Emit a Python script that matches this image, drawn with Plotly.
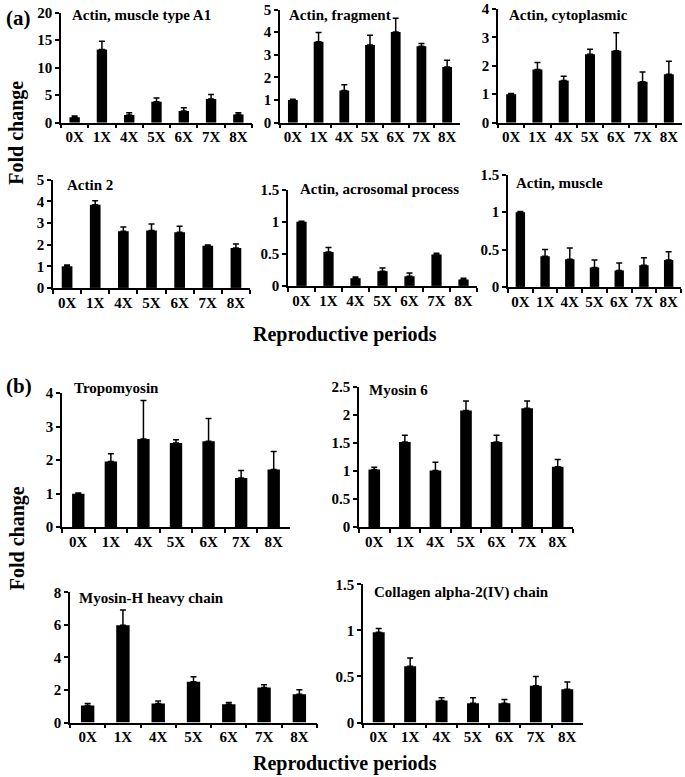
import plotly.graph_objects as go

W, H = 685, 777
periods = ["0X", "1X", "4X", "5X", "6X", "7X", "8X"]

# Panel (a)
actin_a1_mean = [1.0, 13.3, 1.4, 3.8, 2.1, 4.3, 1.5]
actin_a1_err = [0.2, 1.5, 0.4, 0.7, 0.6, 0.8, 0.3]
actin_frag_mean = [1.0, 3.58, 1.42, 3.43, 4.01, 3.38, 2.46]
actin_frag_err = [0.03, 0.4, 0.25, 0.43, 0.6, 0.12, 0.3]
actin_cyto_mean = [1.0, 1.87, 1.48, 2.41, 2.53, 1.44, 1.70]
actin_cyto_err = [0.03, 0.25, 0.15, 0.17, 0.63, 0.34, 0.46]
actin2_mean = [1.0, 3.85, 2.62, 2.65, 2.57, 1.95, 1.85]
actin2_err = [0.06, 0.18, 0.2, 0.3, 0.28, 0.03, 0.18]
actin_acro_mean = [1.0, 0.53, 0.12, 0.23, 0.15, 0.49, 0.10]
actin_acro_err = [0.01, 0.07, 0.02, 0.05, 0.05, 0.02, 0.02]
actin_musc_mean = [1.0, 0.41, 0.37, 0.26, 0.22, 0.29, 0.36]
actin_musc_err = [0.01, 0.09, 0.15, 0.1, 0.1, 0.1, 0.11]
# Panel (b)
tropo_mean = [1.0, 1.96, 2.63, 2.51, 2.56, 1.47, 1.72]
tropo_err = [0.02, 0.23, 1.15, 0.1, 0.68, 0.22, 0.54]
myo6_mean = [1.03, 1.52, 1.01, 2.08, 1.52, 2.12, 1.08]
myo6_err = [0.04, 0.12, 0.15, 0.17, 0.12, 0.13, 0.13]
myoh_mean = [1.05, 5.97, 1.17, 2.5, 1.13, 2.15, 1.74]
myoh_err = [0.12, 0.94, 0.16, 0.31, 0.1, 0.17, 0.27]
coll_mean = [0.98, 0.61, 0.24, 0.21, 0.21, 0.40, 0.36]
coll_err = [0.04, 0.09, 0.03, 0.06, 0.04, 0.10, 0.08]

titles = ["Actin, muscle type A1", "Actin, fragment", "Actin, cytoplasmic",
          "Actin 2", "Actin, acrosomal process", "Actin, muscle",
          "Tropomyosin", "Myosin 6", "Myosin-H heavy chain",
          "Collagen alpha-2(IV) chain"]
means = [actin_a1_mean, actin_frag_mean, actin_cyto_mean, actin2_mean,
         actin_acro_mean, actin_musc_mean, tropo_mean, myo6_mean, myoh_mean, coll_mean]
errs = [actin_a1_err, actin_frag_err, actin_cyto_err, actin2_err,
        actin_acro_err, actin_musc_err, tropo_err, myo6_err, myoh_err, coll_err]
ymax = [20, 5, 4, 5, 1.5, 1.5, 4, 2.5, 8, 1.5]
dticks = [5, 1, 1, 1, 0.5, 0.5, 1, 0.5, 2, 0.5]

# pixel boxes (as seen in the picture): x0, x1, ytop, ybottom
boxes = [(61, 252, 13, 123), (280, 460, 10, 123), (498, 682, 8, 123),
         (53, 250, 180, 288), (288, 477, 190, 286), (508, 681, 175, 287),
         (62, 290, 393, 527), (359, 573, 387, 527), (70, 317, 592, 722),
         (363, 583, 584, 722)]


def py2paper(py, lo=0.0):
    # the photographed page maps layout y to picture y as 8.5 + 0.978*y
    y = max((py - 8.5) / 0.978, lo)
    return min(1.0, max(0.0, 1 - y / H))


FONT = "Liberation Serif"
fig = go.Figure()
annotations = []
for i in range(10):
    n = "" if i == 0 else str(i + 1)
    x0, x1, yt, yb = boxes[i]
    fig.add_trace(go.Bar(
        x=periods, y=means[i], width=0.38, marker=dict(color="black", line=dict(width=0)),
        error_y=dict(type="data", symmetric=False, array=errs[i],
                     arrayminus=[0] * 7, color="black", thickness=1.5, width=3),
        xaxis="x" + n, yaxis="y" + n, showlegend=False))
    fig.layout["xaxis" + n] = dict(
        domain=[x0 / W, x1 / W], anchor="y" + n, type="category",
        range=[-0.5, 6.5], showline=True, linecolor="black", linewidth=1.5,
        ticks="outside", tickson="boundaries", ticklen=4, tickcolor="black",
        tickwidth=1.5, showgrid=False, zeroline=False, tickangle=0,
        tickfont=dict(family=FONT, size=15, color="black", weight="bold"))
    fig.layout["yaxis" + n] = dict(
        domain=[py2paper(yb), py2paper(yt, lo=1)], anchor="x" + n, range=[0, ymax[i]],
        dtick=dticks[i], tick0=0, showline=True, linecolor="black", linewidth=1.5,
        ticks="outside", ticklen=4, tickcolor="black", tickwidth=1.5,
        showgrid=False, zeroline=False,
        tickfont=dict(family=FONT, size=15, color="black", weight="bold"))

title_pos = [(70, 14), (287, 12), (507, 12), (65, 185), (298, 189), (514, 183),
             (72, 388), (367, 390), (77, 598), (372, 592)]
for t, (px, py) in zip(titles, title_pos):
    annotations.append(dict(text=t, x=px / W, y=py2paper(py, lo=7), xref="paper",
                            yref="paper", xanchor="left", yanchor="middle", showarrow=False,
                            font=dict(family=FONT, size=15, color="black", weight="bold")))

for txt, px, py in [("(a)", 4, 16), ("(b)", 4, 386)]:
    annotations.append(dict(text=txt, x=px / W, y=py2paper(py, lo=10), xref="paper",
                            yref="paper", xanchor="left", yanchor="middle", showarrow=False,
                            font=dict(family=FONT, size=21, color="black", weight="bold")))
for py in [335, 763]:
    annotations.append(dict(text="Reproductive periods", x=345 / W, y=py2paper(py),
                            xref="paper", yref="paper", xanchor="center", yanchor="middle",
                            showarrow=False,
                            font=dict(family=FONT, size=20, color="black", weight="bold")))
for py in [133, 538]:
    annotations.append(dict(text="Fold change", x=17 / W, y=py2paper(py), textangle=-90,
                            xref="paper", yref="paper", xanchor="center", yanchor="middle",
                            showarrow=False,
                            font=dict(family=FONT, size=20, color="black", weight="bold")))

fig.update_layout(width=W, height=H, margin=dict(l=0, r=0, t=0, b=0),
                  paper_bgcolor="white", plot_bgcolor="white",
                  annotations=annotations, bargap=0.6,
                  font=dict(family=FONT, color="black"))
fig.write_html(
    "out.html", config={"displayModeBar": False},
    post_script=("var s=document.createElement('style');"
                 "s.textContent='html,body{margin:0;padding:0;overflow:hidden;}';"
                 "document.head.appendChild(s);"))
